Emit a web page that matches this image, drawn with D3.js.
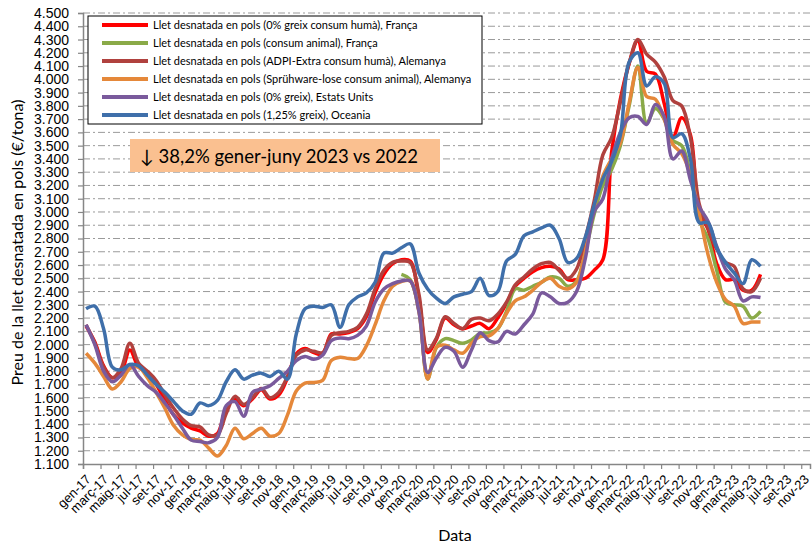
<!DOCTYPE html>
<html>
<head>
<meta charset="utf-8">
<script src="https://cdn.jsdelivr.net/npm/d3@7"></script>
<style>
  body { margin: 0; background: #fff; }
  svg { font-family: Lato, "Liberation Sans", Arial, sans-serif; }
</style>
</head>
<body>
<div id="chart"></div>
<script>
// monthly prices (€/tona), gen-17 .. juny-23 (78 months)
var franca0 = [2140,2020,1840,1750,1790,1960,1830,1790,1700,1580,1470,1410,
  1370,1350,1310,1330,1520,1590,1540,1590,1660,1590,1620,1750,
  1930,1970,1940,1930,2080,2080,2090,2120,2210,2390,2530,2610,
  2640,2630,2350,1940,2040,2200,2150,2120,2140,2160,2120,2200,
  2310,2440,2500,2550,2580,2590,2570,2490,2490,2500,2560,2640,
  3450,3850,4120,4290,4060,4040,3820,3560,3710,3580,3000,2870,
  2610,2490,2490,2410,2410,2530];

var francaAnimal = [null,null,null,null,null,null,null,null,null,null,null,null,
  null,null,null,null,null,null,null,null,null,null,null,null,
  null,null,null,null,null,null,null,null,null,null,null,null,
  2530,2490,2260,1740,1980,2045,2030,2010,2035,2085,2090,2120,
  2250,2420,2410,2440,2470,2510,2500,2440,2480,2700,2980,3200,
  3320,3500,3800,4100,3670,3780,3700,3540,3500,3290,2940,2800,
  2560,2320,2300,2290,2200,2250];

var alemanyaADPI = [2150,2010,1830,1750,1820,2010,1860,1800,1730,1620,1520,1440,
  1390,1380,1320,1320,1480,1610,1550,1600,1670,1600,1640,1760,
  1920,1960,1950,1940,2070,2090,2100,2130,2230,2420,2560,2620,
  2630,2620,2380,1960,2050,2210,2160,2120,2190,2200,2180,2230,
  2320,2450,2510,2570,2610,2620,2560,2500,2570,2800,3080,3430,
  3560,3830,4120,4300,4190,4130,4020,3840,3800,3560,3060,2880,
  2720,2620,2590,2420,2400,2500];

var alemanyaAnimal = [1935,1860,1760,1665,1720,1820,1830,1750,1640,1520,1390,1320,
  1285,1280,1220,1160,1240,1370,1290,1330,1370,1310,1330,1470,
  1650,1710,1715,1730,1880,1905,1895,1895,1990,2150,2330,2440,
  2475,2480,2250,1740,1980,1995,1960,1935,2010,2060,2065,2120,
  2235,2330,2360,2410,2470,2500,2440,2420,2470,2700,3030,3270,
  3400,3520,3820,4090,3870,3850,3700,3510,3440,3280,2990,2680,
  2470,2340,2290,2160,2170,2170];

var estatsUnits = [2150,2000,1800,1720,1770,1850,1760,1690,1640,1560,1470,1370,
  1280,1270,1260,1300,1540,1570,1460,1640,1665,1690,1745,1800,
  1880,1910,1890,1920,2030,2050,2045,2070,2140,2320,2420,2460,
  2480,2480,2250,1790,1900,1980,1950,1830,1960,2090,2030,2020,
  2100,2080,2150,2230,2390,2360,2310,2320,2400,2650,3000,3100,
  3400,3600,3710,3720,3660,3810,3720,3400,3460,3240,3040,2930,
  2740,2570,2490,2330,2360,2355];

var oceania = [2270,2290,2120,1830,1810,1850,1840,1770,1700,1640,1570,1500,
  1475,1560,1540,1580,1720,1810,1740,1770,1785,1760,1800,1740,
  2080,2270,2290,2280,2300,2130,2300,2360,2390,2470,2690,2690,
  2730,2760,2540,2420,2350,2310,2360,2380,2400,2500,2370,2400,
  2630,2680,2820,2850,2880,2900,2800,2620,2650,2810,3050,3250,
  3380,3580,4130,4200,3950,4020,3970,3560,3590,3400,2920,2920,
  2730,2620,2540,2460,2640,2590];

var seriesNames = [
  "Llet desnatada en pols (0% greix consum humà), França",
  "Llet desnatada en pols (consum animal), França",
  "Llet desnatada en pols (ADPI-Extra consum humà), Alemanya",
  "Llet desnatada en pols (Sprühware-lose consum animal), Alemanya",
  "Llet desnatada en pols (0% greix), Estats Units",
  "Llet desnatada en pols (1,25% greix), Oceania"
];
var seriesColors = ["#ff0000", "#8aaa48", "#b0413e", "#e5883a", "#7a5a9c", "#3f6faa"];
var seriesValues = [franca0, francaAnimal, alemanyaADPI, alemanyaAnimal, estatsUnits, oceania];

// axis labels every two months
var tickMonths = ["gen", "març", "maig", "jul", "set", "nov"];
var tickYears = ["17", "18", "19", "20", "21", "22", "23"];
var yTicks = d3.range(1100, 4501, 100);

var noteText = "\u2193 38,2% gener-juny 2023 vs 2022";

// set the dimensions and margins of the graph
var margin = {top: 13, right: 2, bottom: 83, left: 83},
    width = 812 - margin.left - margin.right,
    height = 547 - margin.top - margin.bottom;

var svg = d3.select("#chart")
  .append("svg")
    .attr("width", width + margin.left + margin.right)
    .attr("height", height + margin.top + margin.bottom)
  .append("g")
    .attr("transform", "translate(" + margin.left + "," + margin.top + ")");

// month index scale, gen-17 = 0 .. des-23 = 83
var xScale = d3.scaleLinear().domain([0, 83]).range([0, width]);
var yScale = d3.scaleLinear().domain([1100, 4500]).range([height, 0]);
var dayOffset = 0.35; // points fall a little after the 1st of the month

// gridlines (dash-dot)
svg.append("g")
  .selectAll("line")
  .data(yTicks.slice(1))
  .enter()
  .append("line")
    .attr("x1", 0)
    .attr("x2", width)
    .attr("y1", d => yScale(d))
    .attr("y2", d => yScale(d))
    .style("stroke", "#9a9a9a")
    .style("stroke-width", 1)
    .style("stroke-dasharray", "7,3,2,3");

// axes
var fmt = d => d3.format(",")(d).replace(",", ".");
var yAxis = svg.append("g")
  .call(d3.axisLeft(yScale).tickValues(yTicks).tickSize(5).tickPadding(9).tickFormat(fmt));
yAxis.selectAll("text").style("font-size", "14px").style("fill", "#000");

var tickLabels = [];
tickYears.forEach(yr => tickMonths.forEach(m => tickLabels.push(m + "-" + yr)));

var xAxis = svg.append("g")
  .attr("transform", "translate(0," + height + ")")
  .call(d3.axisBottom(xScale).tickValues(d3.range(0, 83, 2)).tickSize(5)
    .tickFormat((d, i) => tickLabels[i]));
xAxis.selectAll("text")
  .attr("x", 0).attr("y", 0).attr("dy", "0.35em")
  .attr("text-anchor", "end")
  .attr("transform", "translate(5,13) rotate(-45)")
  .style("font-size", "13px")
  .style("fill", "#000");

[yAxis, xAxis].forEach(a => {
  a.select(".domain").style("stroke", "#868686").style("stroke-width", 1.5);
  a.selectAll(".tick line").style("stroke", "#868686").style("stroke-width", 1.2);
});

// lines
var line = d3.line()
  .defined(d => d != null)
  .x((d, i) => xScale(i + dayOffset))
  .y(d => yScale(d))
  .curve(d3.curveCatmullRom.alpha(0.5));

svg.selectAll(".series")
  .data(seriesValues)
  .enter()
  .append("path")
    .attr("class", "series")
    .attr("d", d => line(d))
    .style("fill", "none")
    .style("stroke", (d, i) => seriesColors[i])
    .style("stroke-width", 3.5)
    .style("stroke-linejoin", "round");

// legend
var legend = svg.append("g").attr("transform", "translate(5,3)");
legend.append("rect")
  .attr("width", 394).attr("height", 108)
  .style("fill", "#fff").style("stroke", "#000").style("stroke-width", 1);
var rows = legend.selectAll(".row")
  .data(seriesNames)
  .enter()
  .append("g")
    .attr("transform", (d, i) => "translate(0," + (9 + i * 18) + ")");
rows.append("line")
  .attr("x1", 14).attr("x2", 60)
  .style("stroke", (d, i) => seriesColors[i])
  .style("stroke-width", 4);
rows.append("text")
  .attr("x", 65).attr("dy", "0.35em")
  .style("font-size", "11px")
  .text(d => d);

// note box
var note = svg.append("g").attr("transform", "translate(47,126)");
note.append("rect").attr("width", 310).attr("height", 33).style("fill", "#fac090");
note.append("text")
  .attr("x", 10).attr("y", 24)
  .style("font-size", "18.5px")
  .text(noteText);

// axis titles
svg.append("text")
  .attr("x", 372).attr("y", 528)
  .attr("text-anchor", "middle")
  .style("font-size", "16px")
  .text("Data");
svg.append("text")
  .attr("transform", "translate(-60," + (height / 2 + 4) + ") rotate(-90)")
  .attr("text-anchor", "middle")
  .style("font-size", "16px")
  .text("Preu de la llet desnatada en pols (€/tona)");
</script>
</body>
</html>
